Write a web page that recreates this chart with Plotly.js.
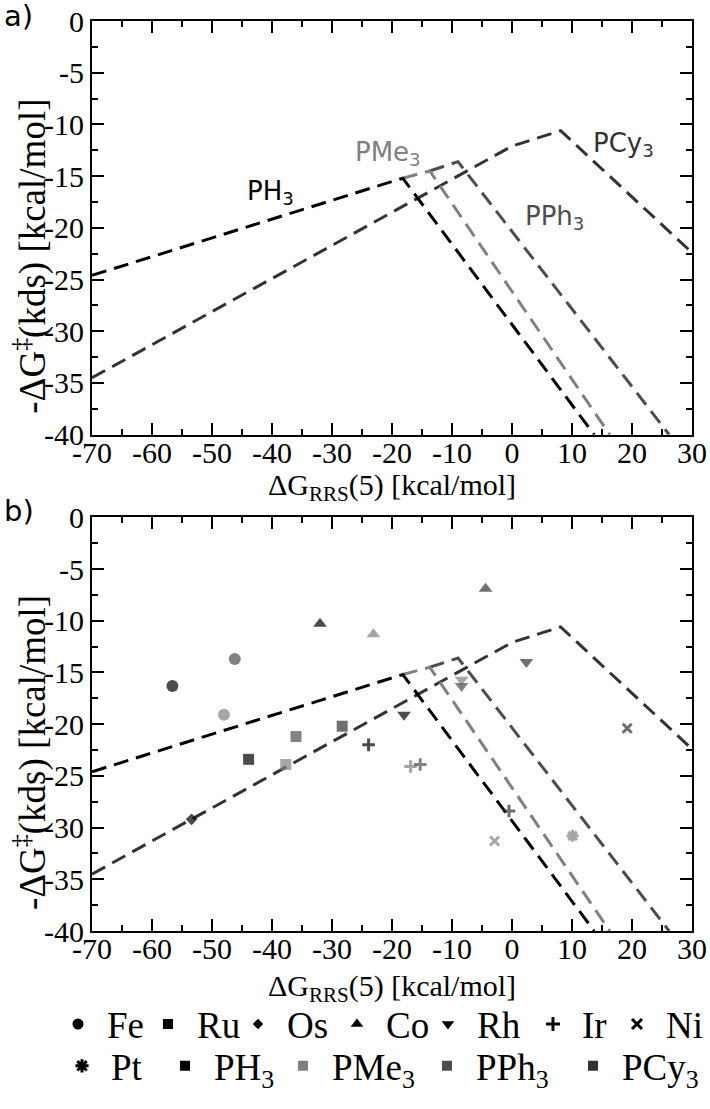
<!DOCTYPE html>
<html><head><meta charset="utf-8">
<script src="https://cdn.plot.ly/plotly-3.0.1.min.js"></script>
<style>html,body{margin:0;padding:0;background:#fff}</style>
</head><body>
<div id="chart" style="width:710px;height:1109px"></div>
<script>
// ---- volcano lines (same in both panels) ----
const ph3LineX  = [-70, -18.2, 13.7];
const ph3LineY  = [-24.6, -15.2, -40];
const pme3LineX = [-18.2, -13.7, 16.3];
const pme3LineY = [-15.2, -14.5, -40];
const pph3LineX = [-13.7, -9.0, 26.2];
const pph3LineY = [-14.5, -13.6, -40];
const pcy3LineX = [-70, 0, 8.1, 30];
const pcy3LineY = [-34.5, -12.1, -10.6, -22.4];

// ---- data points in panel b, per ligand ----
const ph3Metals  = ['Fe', 'Ru', 'Os', 'Co', 'Rh', 'Ir'];
const ph3X       = [-56.6, -43.9, -53.4, -32.0, -18.0, -23.9];
const ph3Y       = [-16.3, -23.4, -29.2, -10.3, -19.1, -22.0];
const pme3Metals = ['Fe', 'Ru', 'Co', 'Rh', 'Ir', 'Ni', 'Pt'];
const pme3X      = [-48.0, -37.7, -23.1, -8.4, -16.9, -2.9, 10.1];
const pme3Y      = [-19.1, -23.9, -11.3, -15.7, -24.1, -31.3, -30.8];
const pph3Metals = ['Fe', 'Ru', 'Rh', 'Ir'];
const pph3X      = [-46.2, -36.0, -8.4, -15.3];
const pph3Y      = [-13.7, -21.2, -16.3, -23.9];
const pcy3Metals = ['Ru', 'Co', 'Rh', 'Ir', 'Ni'];
const pcy3X      = [-28.3, -4.4, 2.4, -0.5, 19.2];
const pcy3Y      = [-20.2, -6.9, -14.0, -28.4, -20.4];

// ---- legend / labels ----
const metals  = ['Fe', 'Ru', 'Os', 'Co', 'Rh', 'Ir', 'Ni', 'Pt'];
const ligands = ['PH<sub>3</sub>', 'PMe<sub>3</sub>', 'PPh<sub>3</sub>', 'PCy<sub>3</sub>'];
const ligandColors = ['#000000', '#808080', '#4d4d4d', '#333333'];
const xTitle = 'ΔG<sub>RRS</sub>(5) [kcal/mol]';
const yTitle = '-ΔG<sup>‡</sup>(kds) [kcal/mol]';

// ---- ticks ----
const xTickVals = [-70, -60, -50, -40, -30, -20, -10, 0, 10, 20, 30];
const xTickText = ['-70', '-60', '-50', '-40', '-30', '-20', '-10', '0', '10', '20', '30'];
const yTickVals = [0, -5, -10, -15, -20, -25, -30, -35, -40];
const yTickText = ['0', '-5', '-10', '-15', '-20', '-25', '-30', '-35', '-40'];

const symbolOf = {Fe:'circle', Ru:'square', Os:'diamond', Co:'triangle-up', Rh:'triangle-down', Ir:'cross-thin', Ni:'x-thin', Pt:'asterisk'};
const sizeOf   = {Fe:12, Ru:11, Os:9, Co:12, Rh:12, Ir:9, Ni:9, Pt:10};
const thin = {Ir:true, Ni:true, Pt:true};
// legend slot widths (px) so that entries sit as in the original
const metalSlot = {Fe:27, Ru:27, Os:36, Co:28, Rh:42, Ir:21, Ni:32, Pt:40};
const ligandSlot = [55, 81, 83, 72];

const DASH = '15px,8px';
const lineSets = [
  [pcy3LineX, pcy3LineY, ligandColors[3]],
  [pph3LineX, pph3LineY, ligandColors[2]],
  [pme3LineX, pme3LineY, ligandColors[1]],
  [ph3LineX,  ph3LineY,  ligandColors[0]]
];
const traces = [];
['', '2'].forEach(function (ax) {
  lineSets.forEach(function (s) {
    traces.push({x: s[0], y: s[1], xaxis: 'x' + ax, yaxis: 'y' + ax, mode: 'lines', showlegend: false,
      hoverinfo: 'skip', line: {color: s[2], width: 3, dash: DASH}});
  });
});

function pointTrace(ms, xs, ys, color) {
  return {
    x: xs, y: ys, xaxis: 'x2', yaxis: 'y2', mode: 'markers', showlegend: false, cliponaxis: false,
    marker: {
      symbol: ms.map(function (m) { return symbolOf[m]; }),
      size: ms.map(function (m) { return sizeOf[m]; }),
      color: color,
      line: {color: color, width: ms.map(function (m) { return thin[m] ? 3 : 0; })}
    }
  };
}
traces.push(pointTrace(ph3Metals, ph3X, ph3Y, ligandColors[0]));
traces.push(pointTrace(pme3Metals, pme3X, pme3Y, ligandColors[1]));
traces.push(pointTrace(pph3Metals, pph3X, pph3Y, ligandColors[2]));
traces.push(pointTrace(pcy3Metals, pcy3X, pcy3Y, ligandColors[3]));

// legend entries: first row = metals up to Ni, second row = Pt + ligands
metals.forEach(function (m) {
  traces.push({x: [null], y: [null], xaxis: 'x2', yaxis: 'y2', mode: 'markers', name: m,
    legend: m === 'Pt' ? 'legend2' : 'legend', legendwidth: metalSlot[m],
    marker: {symbol: symbolOf[m], size: thin[m] ? sizeOf[m] + 1 : sizeOf[m] - 1, color: '#000',
      line: {color: '#000', width: thin[m] ? 3 : 0}}});
});
ligands.forEach(function (l, i) {
  traces.push({x: [null], y: [null], xaxis: 'x2', yaxis: 'y2', mode: 'markers', name: l,
    legend: 'legend2', legendwidth: ligandSlot[i],
    marker: {symbol: 'square', size: 10, color: ligandColors[i]}});
});

const tickFont = {family: 'Liberation Serif', size: 30, color: '#000'};
function xAxis(anchor) {
  return {anchor: anchor, range: [-70, 30], tickmode: 'array', tickvals: xTickVals, ticktext: xTickText,
    showline: true, linecolor: '#000', linewidth: 2, mirror: 'allticks', ticks: 'inside', ticklen: 12, tickwidth: 2,
    tickcolor: '#000', showgrid: false, zeroline: false, tickfont: tickFont, fixedrange: true, ticklabelstandoff: -10,
    minor: {tickmode: 'linear', tick0: 0, dtick: 5, ticks: 'inside', ticklen: 6, tickwidth: 2, tickcolor: '#000', showgrid: false}};
}
function yAxis(anchor, domain) {
  return {anchor: anchor, domain: domain, range: [-40, 0], tickmode: 'array', tickvals: yTickVals, ticktext: yTickText,
    showline: true, linecolor: '#000', linewidth: 2, mirror: 'allticks', ticks: 'inside', ticklen: 12, tickwidth: 2,
    tickcolor: '#000', showgrid: false, zeroline: false, tickfont: tickFont, fixedrange: true,
    minor: {tickmode: 'linear', tick0: 0, dtick: 2.5, ticks: 'inside', ticklen: 6, tickwidth: 2, tickcolor: '#000', showgrid: false}};
}

const labelAnn = [
  {text: ligands[0], x: -40.2, y: -16.6, color: ligandColors[0]},
  {text: ligands[1], x: -20.7, y: -12.8, color: ligandColors[1]},
  {text: ligands[2], x: 7.1, y: -19.0, color: ligandColors[2]},
  {text: ligands[3], x: 18.5, y: -11.9, color: ligandColors[3]}
].map(function (a) {
  return {text: a.text, x: a.x, y: a.y, xref: 'x', yref: 'y', showarrow: false,
    xanchor: 'center', yanchor: 'middle',
    font: {family: 'DejaVu Sans', size: 26, color: a.color}};
});
function paperText(text, x, y, font, angle) {
  return {text: text, xref: 'paper', yref: 'paper', x: x, y: y, xanchor: 'center', yanchor: 'middle',
    showarrow: false, textangle: angle || 0, font: font};
}
const serif30 = {family: 'Liberation Serif', size: 30, color: '#000'};
const serif37 = {family: 'Liberation Serif', size: 37, color: '#000'};
const sans29 = {family: 'DejaVu Sans', size: 29, color: '#000'};
labelAnn.push(paperText('a)', -0.1217, 1.0055, sans29));
labelAnn.push(paperText('b)', -0.1217, 0.4612, sans29));
labelAnn.push(paperText(xTitle, 0.5, 0.4874, serif30));
labelAnn.push(paperText(xTitle, 0.5, -0.0623, serif30));
labelAnn.push(paperText(yTitle, -0.1033, 0.741, serif37, -90));
labelAnn.push(paperText(yTitle, -0.1033, 0.1956, serif37, -90));

const legendFont = {family: 'Liberation Serif', size: 37, color: '#000'};
const layout = {
  width: 710, height: 1109,
  margin: {l: 92, r: 18, t: 21, b: 173},
  paper_bgcolor: '#fff', plot_bgcolor: '#fff',
  xaxis: xAxis('y'), yaxis: yAxis('x', [0.5454, 1]),
  xaxis2: xAxis('y2'), yaxis2: yAxis('x2', [0, 0.4546]),
  annotations: labelAnn,
  showlegend: true,
  legend: {orientation: 'h', x: -0.0717, xanchor: 'left', y: -0.1027, yanchor: 'middle',
    font: legendFont, itemwidth: 48, bgcolor: 'rgba(0,0,0,0)'},
  legend2: {orientation: 'h', x: -0.065, xanchor: 'left', y: -0.1486, yanchor: 'middle',
    font: legendFont, itemwidth: 48, bgcolor: 'rgba(0,0,0,0)'}
};
Plotly.newPlot('chart', traces, layout, {staticPlot: true, displayModeBar: false});
</script>
</body></html>
